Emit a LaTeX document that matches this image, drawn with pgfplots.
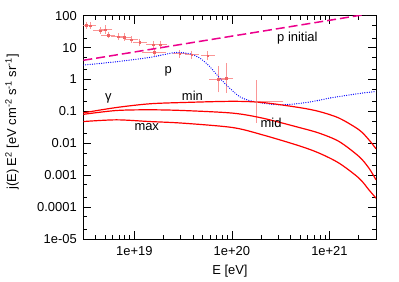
\documentclass[border=0pt]{standalone}
\usepackage{fontspec}
\setmainfont{Liberation Sans}
\usepackage{pgfplots}
\pgfplotsset{compat=1.18}
\usepackage{pgfplotstable}
\definecolor{ptcol}{RGB}{240,100,100}
\definecolor{errcol}{RGB}{250,150,150}

\pgfplotstableread{
x y dx dy
3.21e18 50.4 0.04 0.05
3.53e18 48.5 0.04 0.04
4.44e18 33.8 0.05 0.04
5.06e18 36.4 0.05 0.07
5.39e18 24.8 0.05 0.04
6.82e18 21.9 0.05 0.04
7.85e18 21.4 0.05 0.05
9.31e18 17.7 0.05 0.04
1.135e19 14.5 0.05 0.05
1.56e19 12.3 0.05 0.06
1.83e19 12.3 0.05 0.06
1.59e19 7.05 0.10 0.05
2.92e19 6.41 0.05 0.06
3.88e19 5.97 0.05 0.07
5.65e19 5.56 0.05 0.08
7.2e19 1.03 0.07 0.35
8.77e19 1.11 0.05 0.40
1.77e20 0.204 0.26 0.60
}\auger

\begin{document}
\fontsize{13}{15}\selectfont
\begin{tikzpicture}[font=\fontsize{13}{15}\selectfont]
\begin{axis}[
  scale only axis, width=292.7bp, height=223.3bp,
  xmode=log, ymode=log,
  xmin=3e18, xmax=3e21, ymin=1e-5, ymax=100,
  xtick={1e19,1e20,1e21},
  xticklabels={1e+19,1e+20,1e+21},
  minor xtick={4e18,5e18,6e18,7e18,8e18,9e18,2e19,3e19,4e19,5e19,6e19,7e19,8e19,9e19,2e20,3e20,4e20,5e20,6e20,7e20,8e20,9e20,2e21},
  ytick={1e-5,1e-4,1e-3,1e-2,1e-1,1,10,100},
  yticklabels={1e-05,0.0001,0.001,0.01,0.1,1,10,100},
  minor ytick={2e-5,5e-5,2e-4,5e-4,2e-3,5e-3,2e-2,5e-2,0.2,0.5,2,5,20,50},
  tick align=inside,
  major tick length=8bp, minor tick length=4bp,
  every tick/.style={black, line width=0.8bp},
  axis line style={line width=1bp},
  yticklabel style={xshift=-2bp},
  xticklabel style={yshift=-3bp},
  xlabel={E [eV]},
  ylabel={j(E) E\textsuperscript{2} [eV cm\textsuperscript{-2} s\textsuperscript{-1} sr\textsuperscript{-1}]},
  xlabel style={at={(axis description cs:0.501,-0.1455)}, anchor=center},
  ylabel style={at={(axis description cs:-0.2436,0.524)}, anchor=center, rotate=0},
  clip=true,
]
\addplot[only marks, mark=square*, mark size=0.8bp, color=ptcol,
  error bars/.cd, x dir=both, x explicit, y dir=both, y explicit,
  error mark options={mark size=2bp, errcol, line width=0.7bp},
  error bar style={errcol, line width=0.7bp}]
  table[x=x, y=y,
    x error plus expr={\thisrow{x}*(10^(\thisrow{dx})-1)},
    x error minus expr={\thisrow{x}*(1-10^(-\thisrow{dx}))},
    y error plus expr={\thisrow{y}*(10^(\thisrow{dy})-1)},
    y error minus expr={\thisrow{y}*(1-10^(-\thisrow{dy}))}] {\auger};
\addplot[color=magenta, line width=1.5bp, dash pattern=on 9bp off 4bp]
  coordinates {(3e18,4.0) (3e21,124)};
\addplot[color=blue, line width=1.3bp, line cap=round, dash pattern=on 0bp off 2.3bp, smooth]
  coordinates {(3e18,2.84)(6.55e18,3.60)(1.435e19,4.91)(1.977e19,5.97)(2.70e19,7.05)(3.70e19,6.41)(4.68e19,4.70)(5.92e19,2.56)(7.48e19,1.11)(9.48e19,0.538)(1.194e20,0.293)(1.51e20,0.220)(2.06e20,0.182)(3.07e20,0.161)(4.54e20,0.173)(6.71e20,0.204)(1e21,0.261)(1.469e21,0.315)(2.17e21,0.375)(3e21,0.421)};
\addplot[color=red, line width=1.2bp, smooth]
  coordinates {(3e18,0.0902)(6.55e18,0.1324)(1.435e19,0.173)(3.14e19,0.190)(1.016e20,0.207)(2.06e20,0.190)(4.91e20,0.132)(7.85e20,0.0991)(1.256e21,0.0615)(2.01e21,0.0264)(2.54e21,0.0128)(3e21,0.0067)};
\addplot[color=red, line width=1.2bp, smooth]
  coordinates {(3e18,0.0809)(6.55e18,0.1067)(1.435e19,0.1122)(3.14e19,0.1067)(1.016e20,0.0883)(2.06e20,0.0615)(4.91e20,0.0312)(7.85e20,0.0208)(1.256e21,0.01135)(2.01e21,0.00384)(2.54e21,0.00166)(3e21,0.000713)};
\addplot[color=red, line width=1.2bp, smooth]
  coordinates {(3e18,0.0481)(6.55e18,0.0544)(1.435e19,0.0481)(3.14e19,0.0428)(1.016e20,0.0312)(2.06e20,0.0184)(4.91e20,0.00832)(7.85e20,0.00491)(1.256e21,0.00238)(2.01e21,0.000805)(2.54e21,0.000346)(3e21,0.000190)};
\node at (axis cs:4.69e20,19.9) {p initial};
\node at (axis cs:2.22e19,1.79) {p};
\node at (axis cs:5.43e18,0.248) {γ};
\node at (axis cs:3.94e19,0.308) {min};
\node at (axis cs:2.52e20,0.0428) {mid};
\node at (axis cs:1.34e19,0.0312) {max};
\end{axis}
\path (-83.3bp,-40bp) rectangle (315.7bp,239bp);
\end{tikzpicture}
\end{document}
